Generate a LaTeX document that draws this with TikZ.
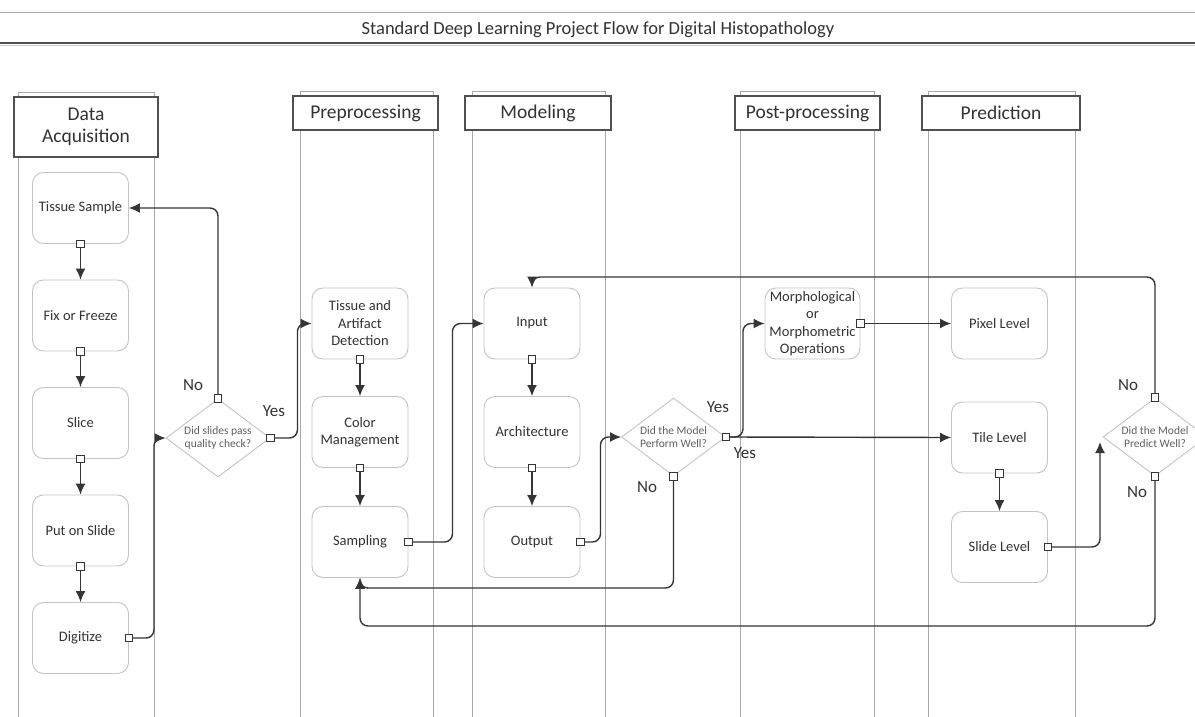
\documentclass[tikz,border=0pt]{standalone}
\usepackage{fontspec}
\setmainfont{Carlito}
\usetikzlibrary{arrows.meta,shapes.geometric}
\definecolor{lanec}{HTML}{A8A8A8}
\definecolor{boxc}{HTML}{C4C4C4}
\definecolor{linec}{HTML}{353535}
\definecolor{txtc}{HTML}{333333}
\definecolor{hdrc}{HTML}{505050}
\definecolor{dtxt}{HTML}{606060}
\begin{document}
\begin{tikzpicture}[x=1pt,y=-1pt,
  lane/.style={draw=lanec,line width=0.8pt},
  hdr/.style={draw=hdrc,line width=1.3pt,fill=white,align=center,font=\fontsize{19.5}{21.5}\selectfont,text=txtc,inner sep=0pt},
  proc/.style={draw=boxc,line width=0.9pt,rounded corners=11pt,minimum width=96pt,minimum height=71pt,align=center,font=\fontsize{14.5}{17.5}\selectfont,text=txtc,inner sep=1pt},
  dec/.style={diamond,draw=boxc,line width=0.9pt,minimum width=104pt,minimum height=78pt,aspect=1.33,inner sep=0pt,align=center,font=\fontsize{11.5}{13.5}\selectfont,text=dtxt},
  conn/.style={draw=linec,line width=1.4pt,rounded corners=8pt,-{Latex[length=11pt,width=10pt]}},
  port/.style={draw=linec,fill=white,line width=1pt,minimum size=7.5pt,inner sep=0pt},
  lbl/.style={font=\fontsize{17}{19}\selectfont,text=txtc,inner sep=0pt}
]
\useasboundingbox (0,0) rectangle (1195,717);
\fill[white] (0,0) rectangle (1195,717);

% title band
\draw[draw=lanec,line width=0.8pt] (0,12) -- (1195,12);
\node[font=\fontsize{18.5}{20}\selectfont,text=txtc] (title) at (598,30) {Standard Deep Learning Project Flow for Digital Histopathology};
\draw[draw=hdrc,line width=1.6pt] (0,43) -- (1195,43);
\draw[draw=lanec!60,line width=0.8pt] (0,45.5) -- (1195,45.5);

% lanes
\draw[lane] (18,92) rectangle (154,740);
\draw[lane] (300,91) rectangle (433,740);
\draw[lane] (472,91) rectangle (605,740);
\draw[lane] (740,91) rectangle (874,740);
\draw[lane] (928,91) rectangle (1075,740);

% headers
\node[hdr,minimum width=144pt,minimum height=60pt] (hda) at (86,127) {Data\\Acquisition};
\node[hdr,minimum width=145pt,minimum height=34pt] (hpre) at (365.5,113) {Preprocessing};
\node[hdr,minimum width=146pt,minimum height=34pt] (hmod) at (538,113) {Modeling};
\node[hdr,minimum width=145pt,minimum height=34pt] (hpost) at (807.5,113) {Post-processing};
\node[hdr,minimum width=158pt,minimum height=34pt] (hpred) at (1001,113) {Prediction};

% process boxes
\node[proc] (ts) at (80.5,208) {Tissue Sample};
\node[proc] (ff) at (80.5,315.5) {Fix or Freeze};
\node[proc] (sl) at (80.5,423) {Slice};
\node[proc] (pos) at (80.5,530.5) {Put on Slide};
\node[proc] (dig) at (80.5,638) {Digitize};

\node[proc] (tad) at (360,323.5) {Tissue and\\Artifact\\Detection};
\node[proc] (cm) at (360,432) {Color\\Management};
\node[proc] (samp) at (360,542) {Sampling};

\node[proc] (inp) at (532,323.5) {Input};
\node[proc] (arch) at (532,432) {Architecture};
\node[proc] (outp) at (532,542) {Output};

\node[proc,minimum width=95pt,inner sep=0pt] (morph) at (812.5,323.5) {Morphological\\or\\Morphometric\\Operations};

\node[proc] (pix) at (999.5,323.5) {Pixel Level};
\node[proc] (tile) at (999.5,437.5) {Tile Level};
\node[proc] (slide) at (999.5,547) {Slide Level};

% decisions
\node[dec] (d1) at (218,438) {Did slides pass\\quality check?};
\node[dec] (d2) at (673.5,437) {Did the Model\\Perform Well?};
\node[dec] (d3) at (1155,437) {Did the Model\\Predict Well?};

% helper coordinates
\coordinate (toprow) at (0,277);
\coordinate (midrow) at (0,588);
\coordinate (lowrow) at (0,626);
\coordinate (d3in) at (1100,442);

% connectors
\draw[conn] (ts.south) -- (ff.north);
\draw[conn] (ff.south) -- (sl.north);
\draw[conn] (sl.south) -- (pos.north);
\draw[conn] (pos.south) -- (dig.north);
\draw[conn] (dig.east) -- ++(25,0) |- (d1.west);
\draw[conn] (d1.north) |- (ts.east);
\draw[conn] (d1.east) -- ++(27,0) |- (tad.west);
\draw[conn] (tad.south) -- (cm.north);
\draw[conn] (cm.south) -- (samp.north);
\draw[conn] (samp.east) -- ++(44,0) |- (inp.west);
\draw[conn] (inp.south) -- (arch.north);
\draw[conn] (arch.south) -- (outp.north);
\draw[conn] (outp.east) -- ++(20,0) |- (d2.west);
\draw[conn] (d2.east) -- (tile.west);
\draw[conn] (d2.east) -- ++(17,0) |- (morph.west);
\draw[conn] (morph.east) -- (pix.west);
\draw[conn] (tile.south) -- (slide.north);
\draw[conn] (slide.east) -| (d3in);
\draw[conn] (d3.north) -- (d3.north |- toprow) -| (inp.north);
\draw[conn] (d2.south) -- (d2.south |- midrow) -| (samp.south);
\draw[conn] (d3.south) -- (d3.south |- lowrow) -| (samp.south);

% ports
\node[port] (p1) at (ts.south) {};
\node[port] (p2) at (ff.south) {};
\node[port] (p3) at (sl.south) {};
\node[port] (p4) at (pos.south) {};
\node[port] (p5) at (dig.east) {};
\node[port] (p6) at (d1.north) {};
\node[port] (p7) at (d1.east) {};
\node[port] (p8) at (tad.south) {};
\node[port] (p9) at (cm.south) {};
\node[port] (p10) at (samp.east) {};
\node[port] (p11) at (inp.south) {};
\node[port] (p12) at (arch.south) {};
\node[port] (p13) at (outp.east) {};
\node[port] (p14) at (d2.east) {};
\node[port] (p15) at (d2.south) {};
\node[port] (p16) at (morph.east) {};
\node[port] (p17) at (tile.south) {};
\node[port] (p18) at (slide.east) {};
\node[port] (p19) at (d3.north) {};
\node[port] (p20) at (d3.south) {};

% labels
\node[lbl] (l1) at (193,385) {No};
\node[lbl] (l2) at (274,411) {Yes};
\node[lbl] (l3) at (718,407) {Yes};
\node[lbl] (l4) at (745,453) {Yes};
\node[lbl] (l5) at (647,487) {No};
\node[lbl] (l6) at (1128,385) {No};
\node[lbl] (l7) at (1137,492) {No};
\end{tikzpicture}
\end{document}
